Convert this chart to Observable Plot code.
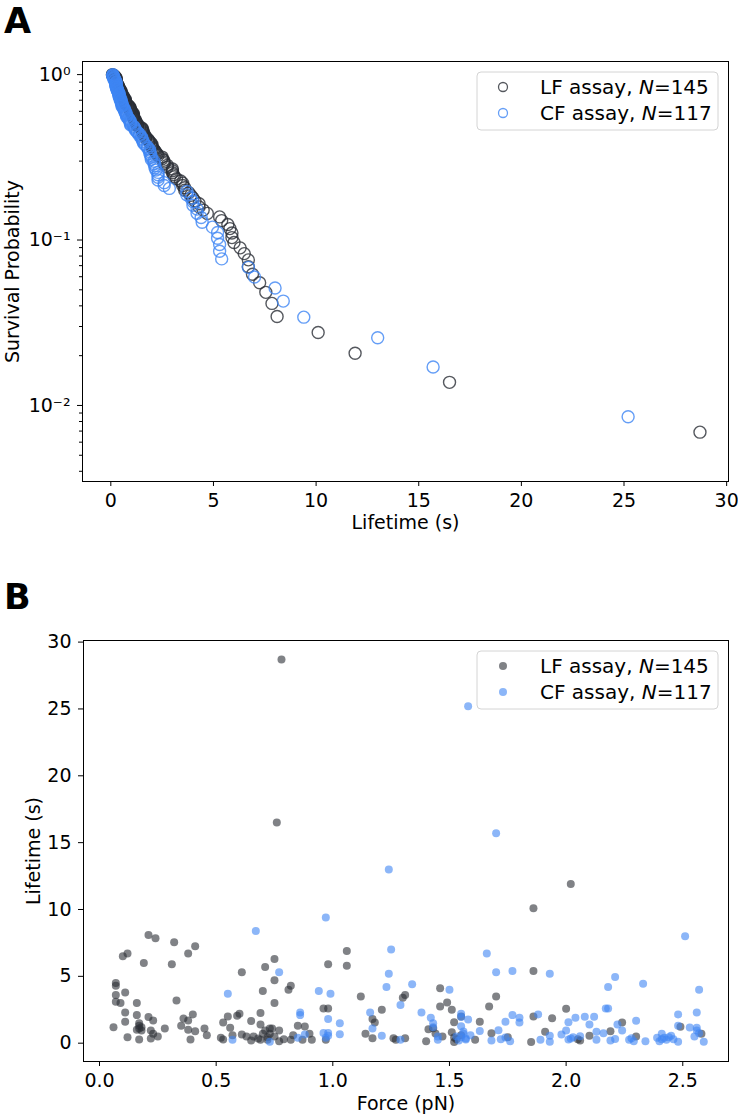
<!DOCTYPE html>
<html>
<head>
<meta charset="utf-8">
<script src="https://cdn.jsdelivr.net/npm/d3@7"></script>
<script src="https://cdn.jsdelivr.net/npm/@observablehq/plot@0.6"></script>
<style>
  body { margin: 0; background: #fff; font-family: "DejaVu Sans", sans-serif; }
  #fig { position: relative; width: 738px; height: 1116px; overflow: hidden; background: #fff; }
  #fig > svg, #fig > figure { position: absolute; left: 0; margin: 0; }
</style>
</head>
<body>
<div id="fig"></div>
<script>
// ---------------- data ----------------
const seriesNames = ["LF assay", "CF assay"];
const seriesN = [145, 117];

// LF assay: force (pN) and lifetime (s) per event
const lfForce = [
  0.78, 0.76, 0.21, 0.24, 0.32, 0.41, 0.38, 0.12, 0.10, 0.19,
  0.31, 0.75, 0.71, 0.61, 0.75, 1.06, 0.98, 1.06, 0.07, 0.07,
  0.82, 0.81, 0.70, 0.11, 0.07, 0.07, 0.09, 0.16, 0.33, 0.75,
  1.12, 1.31, 1.30, 0.96, 0.98, 1.21, 0.11, 0.16, 0.21, 0.23,
  0.11, 0.17, 0.17, 0.17, 0.18, 0.06, 0.22, 0.23, 0.25, 0.28,
  0.12, 0.17, 0.22, 0.36, 0.38, 0.40, 0.35, 0.38, 0.41, 0.39,
  0.45, 0.46, 0.53, 0.53, 0.55, 0.56, 0.57, 0.59, 0.60, 0.61,
  0.63, 0.65, 0.65, 0.66, 0.69, 0.69, 0.70, 0.71, 0.73, 0.74,
  0.73, 0.69, 0.72, 0.77, 0.75, 0.77, 0.82, 0.83, 0.85, 0.87,
  0.88, 0.90, 0.91, 0.97, 1.14, 1.17, 1.18, 1.17, 1.26, 1.27,
  1.31, 2.02, 1.86, 1.86, 1.46, 1.70, 1.49, 1.46, 1.51, 1.67,
  2.00, 1.86, 1.94, 1.52, 1.55, 1.63, 1.41, 1.43, 1.44, 1.47,
  1.51, 1.52, 1.52, 1.40, 1.61, 1.68, 1.75, 1.85, 1.91, 2.05,
  2.10, 2.19, 2.24, 2.30, 2.49, 2.58, 0.16, 0.18, 0.68, 0.72,
  0.79, 1.53, 1.55, 2.06, 0.52
];
const lfLifetime = [
  28.7, 16.5, 8.1, 7.85, 7.55, 7.25, 6.7, 6.7, 6.5, 6.0,
  5.9, 6.3, 5.7, 5.3, 4.7, 6.9, 5.9, 5.8, 4.5, 4.3,
  4.3, 4.0, 3.9, 3.8, 3.6, 3.1, 3.0, 3.0, 3.2, 3.0,
  3.5, 3.6, 3.4, 2.6, 2.6, 2.5, 2.3, 2.1, 1.95, 1.7,
  1.6, 1.5, 1.3, 1.1, 0.95, 1.2, 0.95, 0.7, 0.5, 1.1,
  0.45, 0.27, 0.35, 1.85, 1.7, 2.15, 1.3, 1.0, 0.9, 0.27,
  1.1, 0.6, 0.27, 1.55, 2.0, 1.15, 0.6, 2.05, 2.2, 0.65,
  0.5, 1.65, 0.2, 0.5, 2.25, 1.4, 0.7, 0.95, 1.1, 1.1,
  0.7, 0.25, 0.25, 0.95, 0.5, 0.15, 0.25, 0.6, 1.3, 0.25,
  1.25, 0.7, 0.25, 0.25, 0.7, 1.8, 1.55, 0.37, 0.37, 0.25,
  0.37, 11.9, 10.1, 5.4, 4.1, 3.5, 3.05, 2.75, 2.5, 2.75,
  2.57, 2.0, 1.87, 1.57, 2.0, 1.6, 1.05, 1.12, 0.72, 0.5,
  0.82, 0.42, 0.08, 0.15, 0.25, 0.75, 0.45, 0.08, 0.85, 0.3,
  0.55, 0.9, 1.55, 0.5, 1.22, 0.7, 1.0, 1.2, 0.35, 0.45,
  0.3, 0.3, 0.6, 0.2, 0.4
];

// CF assay: force (pN) and lifetime (s) per event
const cfForce = [
  1.58, 1.24, 0.97, 0.67, 1.25, 0.77, 1.24, 1.23, 1.34, 0.55,
  0.94, 0.99, 1.29, 0.86, 0.86, 1.16, 0.98, 1.03, 1.03, 0.96,
  0.98, 0.97, 0.88, 0.85, 1.17, 1.21, 0.57, 0.73, 1.29, 1.38,
  1.70, 2.51, 1.66, 1.70, 1.77, 1.93, 2.21, 2.18, 2.33, 2.57,
  1.50, 1.42, 1.43, 1.43, 1.55, 1.55, 1.58, 1.55, 1.56, 1.56,
  1.55, 1.57, 1.54, 1.45, 1.63, 1.68, 1.71, 1.74, 1.74, 1.76,
  1.77, 1.80, 1.80, 1.88, 1.89, 1.93, 1.93, 1.98, 2.00, 2.01,
  2.04, 2.01, 2.03, 2.06, 2.08, 2.12, 2.10, 2.13, 2.13, 2.16,
  2.17, 2.18, 2.19, 2.21, 2.22, 2.24, 2.28, 2.29, 2.30, 2.34,
  2.39, 2.40, 2.41, 2.42, 2.45, 2.46, 2.48, 2.48, 2.48, 2.53,
  2.56, 2.56, 2.56, 2.57, 2.59, 1.57, 1.59, 1.53, 2.43, 2.44,
  2.55, 2.41, 0.98, 1.45, 2.02, 1.72, 2.27
];
const cfLifetime = [
  25.2, 13.0, 9.4, 8.4, 7.0, 5.3, 5.2, 4.2, 4.4, 3.7,
  3.9, 3.7, 2.85, 2.3, 2.1, 2.3, 1.8, 1.5, 0.67, 0.77,
  0.77, 0.4, 0.65, 0.4, 1.1, 0.55, 0.25, 0.1, 0.25, 2.3,
  15.7, 8.0, 6.7, 5.3, 5.4, 5.2, 4.95, 4.2, 4.45, 4.0,
  4.0, 1.9, 1.5, 1.2, 2.2, 1.95, 1.77, 1.27, 0.87, 0.7,
  0.45, 0.27, 0.2, 0.25, 0.92, 0.2, 0.97, 1.6, 0.42, 0.15,
  2.1, 1.55, 1.9, 2.15, 0.25, 0.1, 0.55, 0.65, 0.95, 1.57,
  1.9, 0.27, 0.45, 0.52, 1.97, 1.97, 1.4, 0.85, 0.25, 0.75,
  2.6, 2.6, 0.2, 0.32, 1.4, 0.95, 0.37, 0.15, 1.67, 0.15,
  0.4, 0.15, 0.7, 0.4, 0.55, 0.3, 0.1, 2.15, 1.3, 1.17,
  0.95, 2.3, 1.15, 0.75, 0.1, 0.35, 0.6, 0.5, 0.25, 0.45,
  0.5, 0.3, 0.55, 0.5, 0.35, 0.3, 0.25
];

// tick values / labels
const xTicksA = [0, 5, 10, 15, 20, 25, 30];
const yTicksA = [1, 0.1, 0.01];
const yTickLabelsA = ["10\u2070", "10\u207B\u00B9", "10\u207B\u00B2"];
const yMinorTicksA = [
  0.004, 0.005, 0.006, 0.007, 0.008, 0.009,
  0.02, 0.03, 0.04, 0.05, 0.06, 0.07, 0.08, 0.09,
  0.2, 0.3, 0.4, 0.5, 0.6, 0.7, 0.8, 0.9
];
const xTicksB = [0, 0.5, 1.0, 1.5, 2.0, 2.5];
const yTicksB = [0, 5, 10, 15, 20, 25, 30];

// ---------------- styles ----------------
const lfColor = "#2b2e36";
const cfColor = "#3f86f4";
const FONT = "DejaVu Sans";

// ---------------- derived tables ----------------
function survival(lifetimes) {
  const s = d3.sort(lifetimes);
  const n = s.length;
  return s.map((t, i) => ({t, p: (n - i) / n}));
}
const survLF = survival(lfLifetime);
const survCF = survival(cfLifetime);
const scatterLF = lfForce.map((f, i) => ({f, t: lfLifetime[i]}));
const scatterCF = cfForce.map((f, i) => ({f, t: cfLifetime[i]}));

const fig = document.getElementById("fig");
const baseStyle = {fontFamily: FONT, fontSize: "19px", color: "#000", background: "transparent", overflow: "visible"};

// ---------------- Panel A ----------------
const plotA = Plot.plot({
  width: 738, height: 540,
  marginLeft: 82, marginRight: 10, marginTop: 61, marginBottom: 59,
  style: baseStyle,
  x: {domain: [-1.38, 30.09]},
  y: {type: "log", domain: [0.00347, 1.2]},
  marks: [
    Plot.axisX({ticks: xTicksA, tickSize: 5, tickPadding: 7, tickFormat: d => String(d), label: null, stroke: "#000"}),
    Plot.axisY({ticks: yTicksA, tickSize: 5, tickPadding: 7, tickFormat: d => yTickLabelsA[yTicksA.indexOf(d)], label: null, stroke: "#000"}),
    Plot.axisY({ticks: yMinorTicksA, tickSize: 3, tickFormat: () => "", label: null, stroke: "#000"}),
    Plot.dot(survLF, {x: "t", y: "p", r: 6, stroke: lfColor, strokeOpacity: 0.8, strokeWidth: 1.4, fill: "none"}),
    Plot.dot(survCF, {x: "t", y: "p", r: 6, stroke: cfColor, strokeOpacity: 0.8, strokeWidth: 1.4, fill: "none"}),
    Plot.frame({stroke: "#000", strokeWidth: 1}),
    Plot.text(["Lifetime (s)"], {frameAnchor: "bottom", dy: 41, textAnchor: "middle", lineAnchor: "middle", fontSize: 19, fill: "#000"}),
    Plot.text(["Survival Probability"], {frameAnchor: "left", dx: -70, rotate: -90, textAnchor: "middle", lineAnchor: "middle", fontSize: 19, fill: "#000"})
  ]
});
plotA.style.top = "0px";
fig.appendChild(plotA);

// ---------------- Panel B ----------------
const plotB = Plot.plot({
  width: 738, height: 576,
  marginLeft: 83, marginRight: 10, marginTop: 100, marginBottom: 55,
  style: baseStyle,
  x: {domain: [-0.0686, 2.696]},
  y: {domain: [-1.37, 30.12]},
  marks: [
    Plot.axisX({ticks: xTicksB, tickSize: 5, tickPadding: 7, tickFormat: d3.format(".1f"), label: null, stroke: "#000"}),
    Plot.axisY({ticks: yTicksB, tickSize: 5, tickPadding: 7, tickFormat: d => String(d), label: null, stroke: "#000"}),
    Plot.dot(scatterLF, {x: "f", y: "t", r: 4, fill: lfColor, fillOpacity: 0.6}),
    Plot.dot(scatterCF, {x: "f", y: "t", r: 4, fill: cfColor, fillOpacity: 0.6}),
    Plot.frame({stroke: "#000", strokeWidth: 1}),
    Plot.text(["Force (pN)"], {frameAnchor: "bottom", dy: 42, textAnchor: "middle", lineAnchor: "middle", fontSize: 19, fill: "#000"}),
    Plot.text(["Lifetime (s)"], {frameAnchor: "left", dx: -50, rotate: -90, textAnchor: "middle", lineAnchor: "middle", fontSize: 19, fill: "#000"})
  ]
});
plotB.style.top = "540px";
fig.appendChild(plotB);

// ---------------- overlay: panel letters and legends ----------------
const ov = d3.create("svg")
  .attr("width", 738).attr("height", 1116)
  .style("position", "absolute").style("left", "0px").style("top", "0px")
  .style("font-family", FONT).style("pointer-events", "none");

ov.append("text").attr("x", 4).attr("y", 33).attr("font-size", 35).attr("font-weight", "bold").text("A");
ov.append("text").attr("x", 4).attr("y", 609).attr("font-size", 35).attr("font-weight", "bold").text("B");

function legend(x, y, hollow) {
  const g = ov.append("g").attr("transform", `translate(${x},${y})`);
  g.append("rect").attr("width", 241).attr("height", 58).attr("rx", 4)
    .attr("fill", "#fff").attr("fill-opacity", 0.8).attr("stroke", "#d4d4d4").attr("stroke-width", 1);
  const colors = [lfColor, cfColor];
  [0, 1].forEach(i => {
    const cy = 15 + i * 26;
    const c = g.append("circle").attr("cx", 26).attr("cy", cy);
    if (hollow) c.attr("r", 4.5).attr("fill", "none").attr("stroke", colors[i]).attr("stroke-opacity", 0.8).attr("stroke-width", 1.3);
    else c.attr("r", 4).attr("fill", colors[i]).attr("fill-opacity", 0.6);
    const t = g.append("text").attr("x", 63).attr("y", cy + 7.3).attr("font-size", 20).attr("fill", "#000");
    t.append("tspan").text(seriesNames[i] + ", ");
    t.append("tspan").attr("font-style", "italic").text("N");
    t.append("tspan").text("=" + seriesN[i]);
  });
}
legend(477, 72, true);
legend(477, 651, false);

fig.appendChild(ov.node());
</script>
</body>
</html>
